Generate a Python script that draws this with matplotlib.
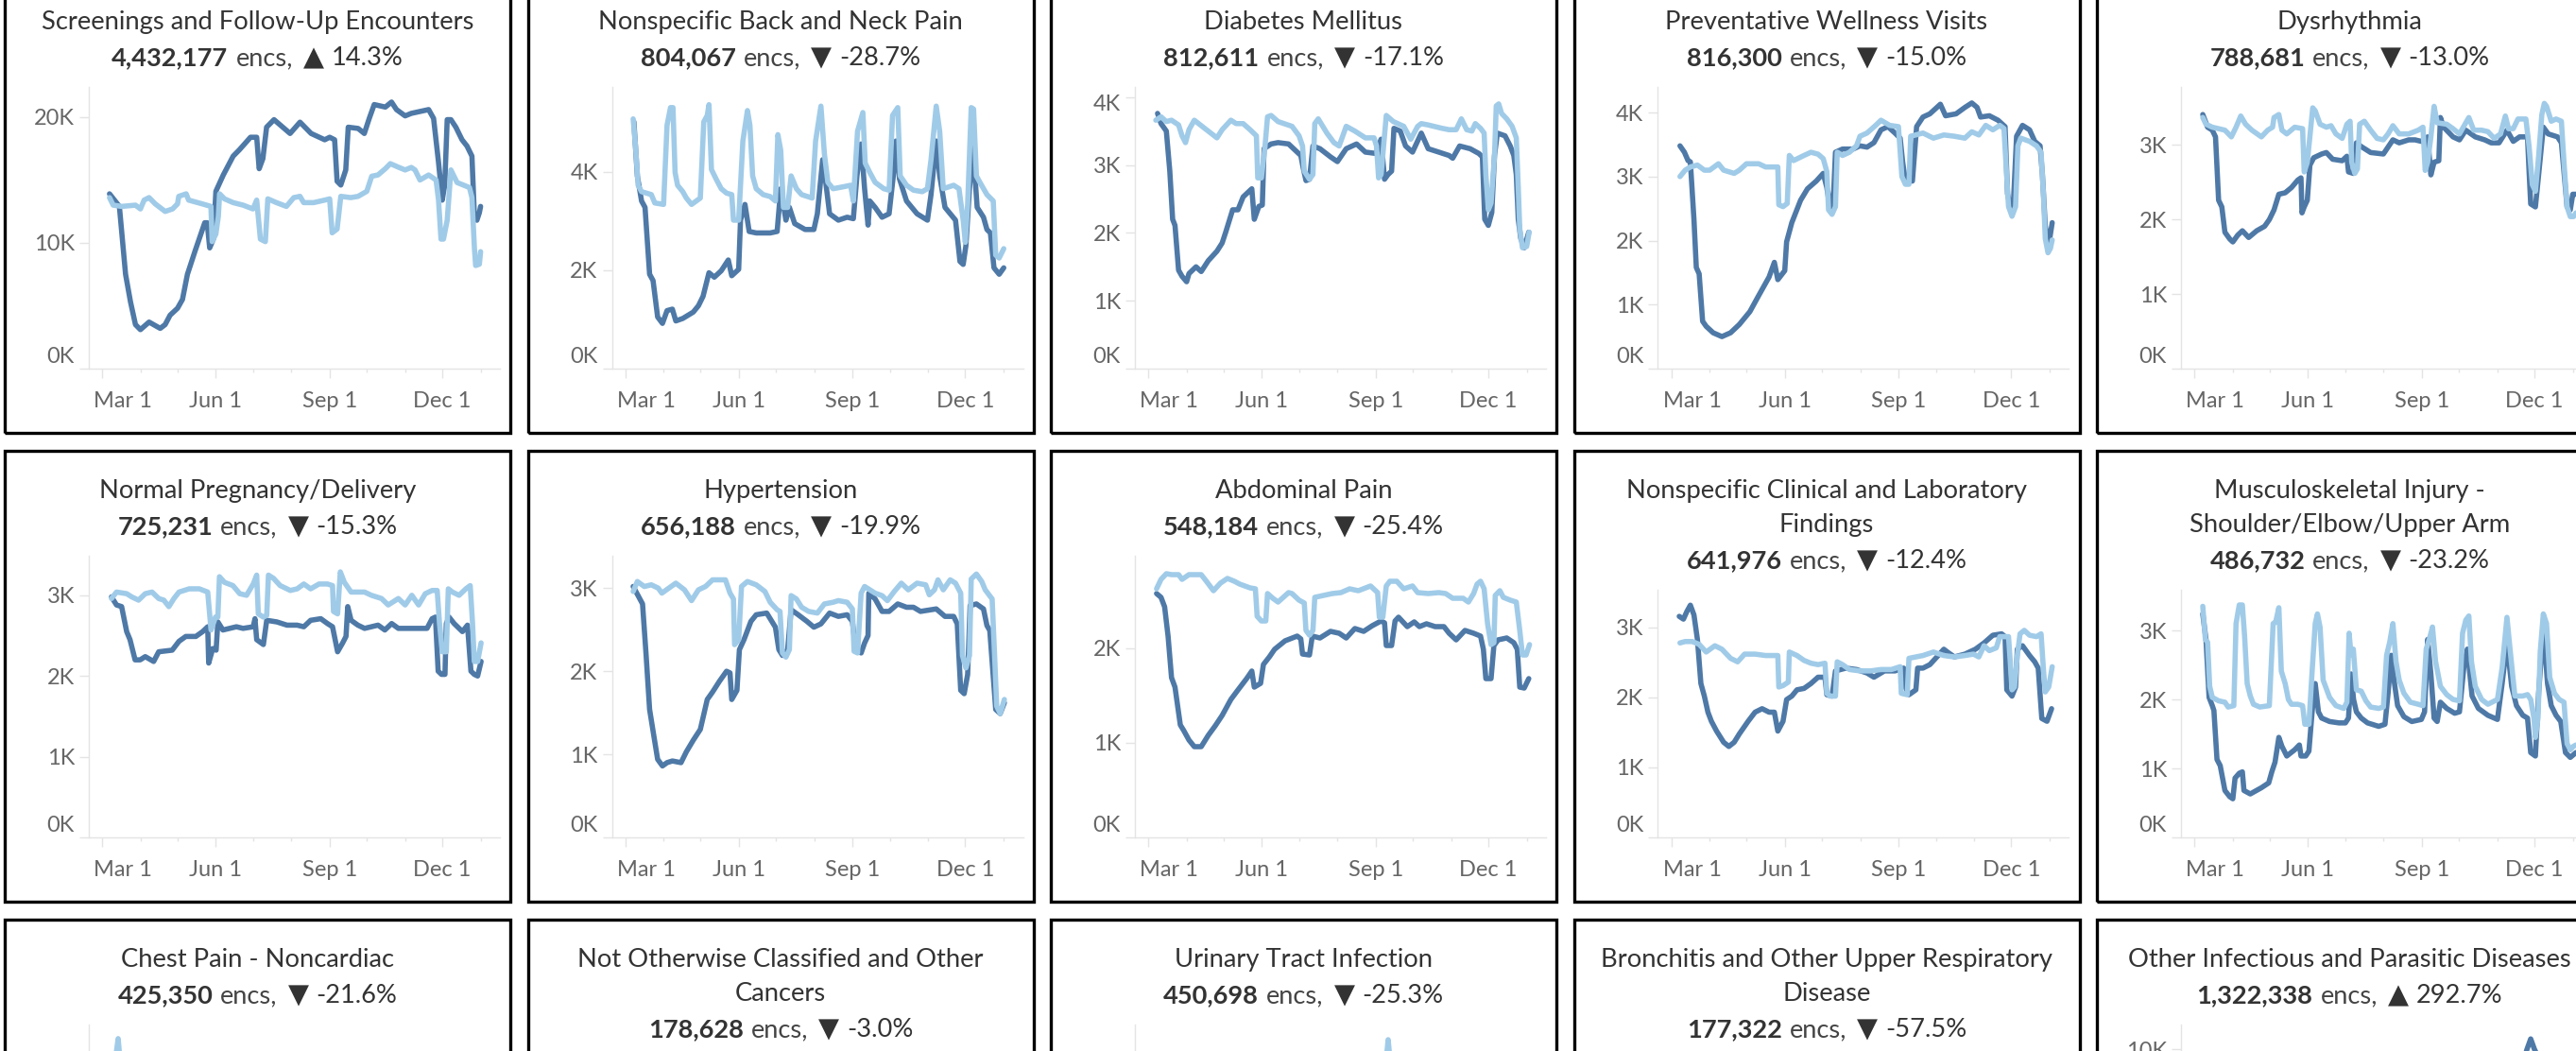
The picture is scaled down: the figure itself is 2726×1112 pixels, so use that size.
import matplotlib
matplotlib.use("Agg")
import matplotlib.pyplot as plt
import matplotlib.transforms as mtransforms
from matplotlib.patches import Rectangle
from matplotlib.offsetbox import TextArea, HPacker, DrawingArea, AnchoredOffsetbox

plt.rcParams['font.family'] = ['Lato', 'DejaVu Sans']

W, H, DPI = 2726, 1112, 100
DARK = '#4e79a7'   # 2020
LIGHT = '#a0cbe8'  # 2019

# ---------------- x axis (day of year) ----------------
MONTH_DAYS = [59, 90, 120, 151, 181, 212, 243, 273, 304, 334, 365]
LABEL_DAYS = [59, 151, 243, 334]
LABEL_TEXT = ['Mar 1', 'Jun 1', 'Sep 1', 'Dec 1']

# ---------------- series (day of year, thousands of encounters) ----------------
SCREEN_2020 = [(65,13.9),(73,12.9),(78,7.5),(82,5.3),(86,3.5),(90,3.1),(97,3.7),(106,3.2),(110,3.5),(114,4.25),(120,4.8),(124,5.5),(128,7.5),(134,9.3),(142,11.6),(144,11.6),(146,9.6),(149,10.3),(151,14.1),(157,15.4),(165,16.9),(170,17.4),(179,18.4),(184,18.4),(186,15.9),(189,16.7),(192,19.2),(198,19.8),(211,18.7),(219,19.6),(228,18.7),(239,18.2),(243,18.4),(247,18.2),(249,14.9),(252,14.6),(256,15.8),(258,19.2),(266,19.1),(271,18.7),(275,19.9),(279,21.0),(288,20.8),(293,21.2),(297,20.6),(304,20.1),(309,20.3),(323,20.6),(327,19.9),(331,16.4),(334,13.4),(336,14.6),(338,19.8),(341,19.8),(345,19.2),(350,18.2),(354,17.7),(358,16.9),(360,12.1),(362,11.8),(364,12.4),(365,12.9)]
SCREEN_2019 = [(65,13.6),(68,13.0),(75,12.9),(86,13.0),(90,12.7),(93,13.4),(97,13.6),(102,13.1),(110,12.5),(116,12.7),(120,13.1),(121,13.7),(127,13.9),(129,13.4),(140,13.1),(147,12.9),(148,10.1),(151,10.7),(153,12.1),(154,13.9),(158,13.5),(165,13.2),(173,13.0),(181,12.7),(184,13.4),(187,10.3),(191,10.1),(193,13.5),(200,13.2),(208,12.9),(214,13.6),(219,13.7),(222,13.2),(230,13.2),(239,13.4),(243,13.5),(245,10.8),(249,11.1),(252,13.7),(260,13.6),(266,13.7),(273,14.1),(277,15.3),(282,15.4),(288,15.9),(292,16.3),(299,16.0),(304,15.8),(309,16.0),(312,15.8),(316,15.0),(323,15.4),(329,15.0),(331,13.4),(333,10.3),(335,10.3),(338,11.8),(341,15.8),(346,14.8),(356,14.4),(358,13.6),(360,9.6),(361,8.2),(364,8.3),(365,9.3)]

BACK_2020 = [(66.1,5.02),(68.9,3.92),(72.3,3.41),(75.1,3.28),(78.8,1.92),(81.6,1.79),(85.3,1.05),(89.2,0.92),(92.9,1.18),(97.2,1.21),(100,0.97),(105.6,1.02),(114.1,1.15),(118.3,1.28),(122,1.47),(126.8,1.95),(131.1,1.86),(136.7,1.99),(142.4,2.21),(145.2,1.89),(150.8,2.02),(152.3,3.02),(155.9,3.34),(159.3,2.79),(165,2.76),(176.3,2.76),(181.9,2.79),(184.8,3.66),(189,3.02),(191.8,3.28),(196.1,2.95),(204.5,2.83),(211.6,2.83),(214.4,3.15),(218.7,4.25),(221.5,3.73),(224.3,3.15),(231.4,3.02),(238.5,3.08),(243.5,3.05),(246.4,3.92),(249.8,4.57),(252.6,3.66),(255.4,2.92),(256.8,3.41),(261.1,3.28),(266.7,3.08),(272.4,3.15),(275.8,3.92),(278,4.63),(280.8,3.86),(286.5,3.41),(295,3.15),(303.4,3.02),(306.3,3.54),(310.5,4.63),(313.3,3.92),(317.6,3.28),(326.1,3.02),(329.7,2.18),(332.3,2.12),(334.5,2.5),(337.4,3.66),(340.2,4.5),(343.6,3.28),(348.7,3.08),(351.5,2.83),(354.3,2.76),(357.2,2.05),(361.4,1.92),(365.1,2.05)]
BACK_2019 = [(65.5,5.08),(67.5,4.5),(69.5,3.73),(72.3,3.6),(80.2,3.54),(83,3.37),(90.1,3.34),(92.9,4.95),(95.7,5.31),(97.7,5.31),(99.4,3.99),(101.4,3.73),(105.6,3.6),(108.5,3.47),(112.7,3.34),(119.8,3.47),(122.6,5.02),(125.4,5.15),(126.8,5.37),(128.8,4.05),(132.5,3.86),(136.7,3.66),(141,3.57),(145.2,3.54),(146.6,3.02),(150.8,3.02),(154.2,4.63),(157.9,5.25),(159.9,4.95),(162.1,3.92),(165,3.66),(170.6,3.54),(176.3,3.5),(180.5,3.41),(182.5,4.76),(184.8,4.44),(187,3.28),(190.4,3.28),(193.2,3.92),(197.5,3.66),(201.7,3.54),(210.2,3.47),(213,4.63),(217.3,5.34),(220.1,4.37),(222.9,3.79),(227.1,3.66),(235.6,3.7),(241.3,3.73),(243.5,3.41),(246.9,4.83),(251.2,5.21),(253.1,4.18),(256.8,3.99),(261.1,3.79),(268.1,3.66),(272.4,3.63),(275.2,5.15),(279.4,5.31),(281.4,3.92),(286.5,3.73),(292.1,3.63),(299.2,3.6),(303.4,3.66),(306.3,4.25),(310.5,5.34),(313.3,4.83),(316.2,3.66),(324.6,3.73),(328.9,3.66),(332.3,3.02),(334,2.57),(335.9,3.34),(338.8,5.31),(340.7,5.28),(343,3.92),(345.8,3.79),(351.5,3.54),(356.6,3.41),(358.6,2.31),(361.4,2.25),(365.1,2.44)]

DIAB_2020 = [(66.6,3.76),(69.4,3.61),(73.7,3.5),(76.5,2.91),(78.8,2.2),(80.7,2.11),(83.6,1.45),(86.4,1.36),(90.1,1.28),(92,1.4),(97.7,1.5),(101.9,1.43),(107.6,1.59),(114.6,1.73),(118.8,1.85),(121.7,2.01),(127.3,2.34),(131.6,2.34),(135.8,2.53),(142.8,2.65),(144.8,2.2),(148.5,2.39),(151.3,2.41),(152.7,3.24),(158.4,3.31),(164,3.33),(172.5,3.31),(179.5,3.19),(182.4,3.14),(184.3,2.96),(186.6,2.77),(189.4,2.79),(192.2,3.28),(197.9,3.24),(206.4,3.12),(212,3.05),(219.1,3.24),(227.5,3.31),(234.6,3.19),(243.1,3.17),(247.3,3.38),(250.1,2.79),(252.9,2.86),(255.8,2.91),(257.7,3.54),(262.8,3.5),(267.1,3.28),(272.7,3.19),(279.8,3.47),(285.4,3.24),(293.9,3.19),(302.3,3.14),(305.2,3.1),(310.8,3.28),(319.3,3.24),(326.3,3.17),(329.2,3.12),(331.1,2.2),(334,2.11),(336.8,2.3),(339,3.14),(341.3,3.47),(347.5,3.43),(351.7,3.28),(354.6,3.14),(356.6,2.86),(358.2,2.2),(360.2,1.92),(363,1.78),(366.7,2.01)]
DIAB_2019 = [(65.2,3.66),(69.4,3.71),(73.7,3.64),(77.9,3.66),(83.6,3.59),(86.4,3.43),(89.2,3.33),(92,3.52),(96.3,3.66),(104.7,3.54),(114.6,3.4),(118.8,3.52),(125.9,3.66),(130.1,3.61),(135.8,3.61),(141.4,3.52),(146.5,3.43),(147.6,2.81),(150.5,2.81),(153.3,3.24),(155.5,3.71),(158.4,3.73),(164,3.64),(175.3,3.57),(181,3.43),(183.8,3.28),(185.2,2.91),(189.4,2.79),(192.2,2.86),(193.7,3.61),(196.5,3.68),(203.5,3.47),(209.2,3.33),(213.4,3.28),(219.1,3.57),(226.1,3.5),(234.6,3.4),(241.6,3.4),(243.6,3.28),(245.3,2.81),(247.3,2.86),(251.5,3.73),(257.2,3.64),(265.6,3.57),(271.3,3.38),(276.9,3.57),(279.8,3.61),(285.4,3.59),(296.7,3.54),(302.3,3.52),(308,3.52),(312.2,3.68),(316.5,3.52),(320.7,3.5),(323.5,3.61),(327.7,3.54),(330.6,3.47),(332,2.86),(334,2.34),(336.2,2.44),(339,3.14),(340.4,3.87),(342.4,3.9),(344.7,3.76),(348.9,3.68),(353.2,3.57),(356.6,3.4),(358.2,2.67),(359.4,2.06),(361.6,1.78),(365,1.8),(367,2.01)]

PREV_2020 = [(66.1,3.48),(69.7,3.38),(72.6,3.25),(74.5,3.23),(77.4,2.33),(79.3,1.58),(81.6,1.48),(84.4,0.74),(87.3,0.66),(92.9,0.56),(100,0.5),(107,0.56),(114.1,0.69),(122.6,0.89),(129.7,1.14),(138.1,1.43),(142.4,1.66),(145.2,1.39),(150.8,1.53),(152.3,1.98),(156.5,2.28),(163.6,2.63),(169.2,2.81),(176.3,2.93),(181.9,3.05),(184.8,2.83),(187.6,2.48),(190.4,2.78),(191.8,3.38),(197.5,3.43),(206,3.43),(211.6,3.48),(217.3,3.46),(222.9,3.53),(228.6,3.73),(234.2,3.78),(239.9,3.68),(244.1,3.6),(246.1,3.23),(248.3,2.93),(254,2.93),(257.4,3.78),(262.5,3.93),(268.1,3.98),(276.6,4.13),(280.8,3.95),(289.3,3.98),(296.4,4.08),(302,4.15),(306.3,4.08),(309.1,3.93),(316.2,3.95),(323.2,3.88),(328.9,3.78),(330.9,2.73),(333.1,2.53),(335.4,2.48),(338.2,3.63),(343,3.8),(348.7,3.73),(352.9,3.55),(357.2,3.48),(359.1,3.03),(361.4,2.23),(364.2,1.93),(367,2.28)]
PREV_2019 = [(66.1,3.0),(70.3,3.1),(74.5,3.15),(80.2,3.18),(85.8,3.1),(90.1,3.1),(97.2,3.2),(101.4,3.1),(109.9,3.05),(114.1,3.1),(119.8,3.2),(129.7,3.2),(135.3,3.15),(145.2,3.15),(146,2.56),(149.4,2.53),(152.8,2.58),(154.5,3.33),(157.9,3.25),(166.4,3.33),(172,3.38),(177.7,3.35),(181.9,3.28),(184.8,3.08),(186.2,2.48),(189,2.41),(191.8,2.53),(193.2,3.38),(197.5,3.33),(203.1,3.38),(208.8,3.48),(211.6,3.63),(217.3,3.68),(224.3,3.8),(228.6,3.88),(235.6,3.8),(242.7,3.78),(245.5,3.0),(248.3,2.88),(251.2,2.88),(252.6,3.63),(262.5,3.68),(271,3.6),(279.4,3.65),(287.9,3.63),(296.4,3.6),(302,3.7),(307.7,3.65),(313.3,3.8),(319,3.73),(324.6,3.8),(328,3.75),(329.7,3.18),(331.7,2.53),(334.5,2.38),(337.4,2.53),(339.3,3.48),(341.6,3.6),(348.7,3.55),(354.3,3.48),(358,3.38),(359.9,2.73),(361.4,2.03),(363.6,1.81),(365.6,1.88),(367,2.01)]

DYSR_2020 = [(65.9,3.41),(69.8,3.24),(73.6,3.2),(76.2,3.11),(78.7,2.26),(81.3,2.17),(83.8,1.83),(87.7,1.74),(90.2,1.7),(94.1,1.79),(97.9,1.85),(103,1.76),(109.5,1.85),(115.9,1.91),(119.7,2.0),(123.5,2.13),(127.4,2.34),(132.5,2.36),(137.6,2.43),(142.7,2.53),(145.3,2.56),(146.1,2.09),(147.9,2.17),(150.4,2.26),(152.5,2.73),(155.6,2.83),(162,2.88),(165.8,2.9),(170.9,2.81),(178.6,2.79),(182.4,2.85),(183.7,2.64),(187.6,2.62),(190.1,3.03),(194,2.98),(201.6,2.9),(211.9,2.88),(219.6,3.07),(224.7,3.03),(232.4,3.07),(237.5,3.07),(242.6,3.05),(247.7,3.11),(250.3,2.6),(252.9,2.77),(256.7,2.79),(258,3.37),(260.6,3.24),(268.2,3.11),(273.4,3.07),(278.5,3.2),(286.2,3.11),(293.8,3.07),(299,3.03),(305.4,3.03),(311.8,3.2),(316.9,3.05),(322,3.11),(328.4,3.11),(329.7,2.64),(331,2.21),(334.8,2.17),(337.4,2.6),(341.2,3.24),(345.1,3.15),(352.7,3.11),(355.8,3.03),(357.9,2.64),(360.4,2.17),(363,2.13),(365,2.34),(367.6,2.34)]
DYSR_2019 = [(65.9,3.37),(68.5,3.28),(73.6,3.24),(78.7,3.22),(83.8,3.2),(89,3.11),(92.8,3.24),(96.6,3.39),(100.5,3.28),(105.6,3.2),(113.3,3.11),(118.4,3.2),(122.3,3.24),(123.5,3.37),(127.4,3.41),(129.9,3.2),(133.8,3.15),(140.2,3.24),(146.6,3.22),(147.9,2.64),(150.4,2.77),(153,3.2),(154.8,3.5),(156.8,3.46),(160.7,3.28),(165.8,3.24),(169.6,3.26),(173.5,3.15),(178.6,3.09),(182.4,3.28),(185,3.32),(186.3,2.77),(188.8,2.62),(190.9,2.68),(192.7,3.28),(196.5,3.32),(201.6,3.2),(206.8,3.09),(211.9,3.07),(215.7,3.15),(219.6,3.26),(224.7,3.15),(232.4,3.15),(240.1,3.2),(243.9,3.24),(245.7,2.66),(247.7,2.77),(250.3,3.11),(252.9,3.52),(255.4,3.3),(263.1,3.28),(268.2,3.22),(273.4,3.15),(277.2,3.26),(281,3.37),(284.9,3.2),(291.3,3.2),(296.4,3.18),(301.5,3.09),(306.6,3.15),(310.5,3.39),(313.1,3.22),(316.9,3.22),(320.7,3.35),(327.1,3.35),(329.7,2.98),(332.3,2.47),(334.8,2.38),(337.4,2.85),(340,3.41),(342,3.56),(343.8,3.52),(347.6,3.32),(351.5,3.35),(355.8,3.32),(357.9,2.77),(360.4,2.17),(363,2.04),(365.6,2.04),(367.6,2.09)]

PREG_2020 = [(66.6,2.98),(70.7,2.88),(74.8,2.86),(78.9,2.55),(81.6,2.45),(85.7,2.2),(89.8,2.2),(93.9,2.24),(100.7,2.18),(104.8,2.3),(115.7,2.32),(121.2,2.43),(126.7,2.49),(134.8,2.49),(140.3,2.55),(144.4,2.61),(145.2,2.16),(148.5,2.34),(151.2,2.32),(152.6,2.67),(156.7,2.57),(167.6,2.61),(173,2.59),(181.2,2.61),(182.6,2.71),(184,2.45),(189.4,2.39),(192.1,2.69),(200.3,2.67),(208.5,2.63),(216.7,2.63),(222.1,2.61),(227.6,2.69),(235.8,2.71),(241.2,2.65),(245.3,2.61),(249.4,2.3),(253.5,2.41),(256.2,2.49),(257.6,2.86),(260.3,2.69),(265.8,2.63),(271.2,2.59),(282.1,2.63),(287.6,2.57),(293.1,2.65),(298.5,2.59),(309.4,2.59),(321.7,2.59),(325.8,2.71),(328.5,2.73),(330.7,2.06),(333.4,2.02),(336.2,2.02),(337.3,2.65),(339.5,2.73),(343.6,2.65),(350.3,2.55),(354.4,2.63),(357.2,2.06),(359.9,2.02),(362.6,2.0),(365.4,2.18)]
PREG_2019 = [(66.6,2.96),(70.7,3.04),(78.9,3.02),(83,2.98),(88.5,2.94),(93.9,3.02),(99.4,3.04),(104.8,2.96),(108.9,2.94),(113,2.86),(117.1,2.96),(121.2,3.04),(129.4,3.08),(137.6,3.08),(144.4,3.04),(147.1,2.57),(150.7,2.73),(152.6,2.73),(153.9,3.23),(158,3.16),(164.8,3.12),(170.3,3.02),(175.8,3.0),(181.2,3.14),(184,3.25),(185.3,2.77),(189.4,2.73),(192.1,2.75),(193.5,3.25),(197.6,3.21),(203,3.12),(211.2,3.06),(216.7,3.08),(222.1,3.14),(227.6,3.08),(234.4,3.14),(241.2,3.14),(245.3,3.12),(246.1,2.8),(249.4,2.77),(251.6,3.29),(254.9,3.16),(260.3,3.04),(271.2,3.04),(276.7,3.0),(284.9,2.96),(290.3,2.88),(298.5,2.96),(304,2.88),(309.4,3.0),(314.9,2.88),(320.3,3.02),(325.8,3.06),(329.9,3.06),(331.8,2.65),(334,2.3),(337.3,2.3),(338.9,3.08),(342.2,3.04),(347.6,3.0),(353.1,3.08),(356.6,3.12),(358.5,2.65),(359.9,2.18),(362.6,2.18),(365.4,2.41)]

HTN_2020 = [(65.5,3.02),(69.5,2.91),(73.1,2.81),(76,2.19),(78.8,1.54),(81.6,1.28),(85.3,0.94),(89.2,0.86),(92.9,0.9),(97.2,0.92),(104.2,0.9),(108.5,1.03),(114.1,1.17),(119.8,1.3),(125.4,1.66),(129.7,1.75),(135.3,1.88),(141,2.0),(143.8,1.98),(145.2,1.66),(149.4,1.77),(151.4,2.26),(155.1,2.38),(160.7,2.6),(165,2.68),(173.5,2.7),(180.5,2.53),(183.3,2.26),(186.2,2.19),(190.4,2.26),(193.2,2.74),(198.9,2.68),(206,2.6),(211.6,2.53),(217.3,2.57),(224.3,2.7),(231.4,2.66),(238.5,2.68),(242.7,2.6),(245.5,2.26),(249.8,2.22),(252.6,2.34),(255.4,2.43),(256,2.94),(261.1,2.87),(266.7,2.72),(272.4,2.72),(279.4,2.81),(286.5,2.77),(292.1,2.77),(297.8,2.72),(310.5,2.75),(317.6,2.66),(324.6,2.66),(327.5,2.57),(330.3,1.77),(333.1,1.73),(335.9,1.96),(337.9,2.79),(343,2.81),(348.7,2.75),(351.5,2.55),(353.8,2.49),(358.6,1.54),(362.2,1.49),(365.6,1.62)]
HTN_2019 = [(65.5,2.96),(68.9,3.08),(74.5,3.02),(80.2,3.04),(85.8,3.0),(88.7,2.94),(94.3,3.0),(100,3.06),(107,2.98),(112.7,2.85),(118.3,2.98),(124,3.02),(129.7,3.1),(140.1,3.1),(143.8,2.94),(146.6,2.87),(147.5,2.32),(150.8,2.38),(153.1,3.02),(157.9,3.08),(165,3.04),(172,2.96),(176.3,2.83),(181.9,2.74),(184.2,2.72),(186.2,2.22),(189,2.17),(191.8,2.26),(193.2,2.91),(197.5,2.87),(201.7,2.77),(207.4,2.72),(214.4,2.7),(220.1,2.81),(227.1,2.83),(231.4,2.85),(238.5,2.83),(242.7,2.75),(244.1,2.24),(246.9,2.22),(249.8,2.94),(252.6,3.02),(261.1,2.94),(266.7,2.91),(271,2.85),(276.6,2.96),(282.3,3.06),(287.9,2.98),(295,3.06),(302,3.04),(304.9,2.92),(309.1,2.98),(311.9,3.1),(316.2,2.98),(321.8,3.1),(326.1,3.06),(330.3,2.94),(331.7,2.19),(334.5,2.04),(337.4,2.19),(338.8,3.11),(343,3.17),(347.3,3.08),(350.1,2.98),(355.7,2.87),(357.7,2.19),(359.4,1.58),(362.2,1.49),(365.6,1.66)]

ABD_2020 = [(65.8,2.58),(69.4,2.54),(72.3,2.44),(75.1,2.13),(77.9,1.69),(80.7,1.59),(85,1.19),(87.8,1.13),(92,1.03),(96.3,0.96),(101.9,0.96),(107.6,1.08),(113.2,1.18),(118.8,1.29),(125.9,1.46),(131.6,1.56),(138.6,1.68),(142.8,1.76),(144.8,1.59),(149.9,1.63),(152.2,1.83),(157,1.91),(161.2,1.99),(169.7,2.08),(179.5,2.13),(182.4,2.1),(183.8,1.94),(189.4,1.93),(191.7,2.13),(197.9,2.11),(206.4,2.18),(213.4,2.16),(219.1,2.11),(226.1,2.21),(233.2,2.18),(240.2,2.24),(247.3,2.29),(250.1,2.27),(251.5,2.03),(255.8,2.03),(258.6,2.29),(261.4,2.33),(268.5,2.23),(274.1,2.28),(278.3,2.23),(284,2.26),(291,2.23),(298.1,2.23),(302.3,2.16),(308,2.09),(315.1,2.19),(322.1,2.16),(327.7,2.13),(330,1.99),(332,1.68),(336.2,1.68),(338.5,2.03),(341.9,2.09),(348.9,2.11),(354.6,2.06),(357.4,1.99),(359.4,1.59),(363,1.58),(366.7,1.68)]
ABD_2019 = [(65.8,2.63),(69.4,2.73),(73.7,2.79),(77.9,2.78),(83.6,2.78),(86.4,2.73),(92,2.78),(101.9,2.78),(106.1,2.71),(111.8,2.61),(117.4,2.69),(123.1,2.74),(128.7,2.71),(133,2.68),(141.4,2.64),(145.7,2.63),(147.1,2.34),(150.5,2.29),(154.1,2.29),(155.5,2.58),(159.8,2.53),(164,2.49),(172.5,2.59),(175.3,2.58),(181,2.51),(185.2,2.48),(186.6,2.19),(189.4,2.14),(192.2,2.19),(193.7,2.54),(200.7,2.56),(207.8,2.58),(214.8,2.59),(221.9,2.63),(228.9,2.61),(238.8,2.66),(244.5,2.59),(245.9,2.33),(248.7,2.33),(251.5,2.66),(254.4,2.71),(260,2.71),(265.6,2.63),(272.7,2.66),(276.9,2.59),(285.4,2.58),(293.9,2.59),(299.5,2.58),(305.2,2.53),(313.6,2.53),(317.9,2.49),(322.1,2.58),(324.9,2.68),(327.7,2.71),(330.6,2.63),(333.4,2.26),(336.2,2.04),(338.5,2.06),(339.6,2.56),(343.3,2.61),(346.1,2.54),(351.8,2.51),(356.6,2.49),(359.4,2.19),(361.6,1.93),(364.5,1.93),(367.3,2.04)]

NONSPEC_2020 = [(65.5,3.16),(68.9,3.12),(71.7,3.23),(74.5,3.32),(77.4,3.18),(80.2,2.83),(83,2.2),(85.8,2.02),(88.7,1.79),(91.5,1.66),(95.7,1.52),(101.4,1.36),(105.6,1.3),(109.9,1.36),(114.1,1.48),(121.2,1.66),(126.8,1.79),(132.5,1.84),(138.1,1.79),(142.4,1.79),(145.2,1.52),(149.4,1.66),(152.3,1.97),(156.5,2.02),(160.7,2.11),(166.4,2.13),(172,2.2),(177.7,2.29),(183.3,2.29),(184.8,2.04),(189,2.02),(191.8,2.38),(200.3,2.42),(208.8,2.4),(217.3,2.35),(222.9,2.29),(231.4,2.38),(239.9,2.38),(246.9,2.42),(248.3,2.15),(251.2,2.04),(256.8,2.11),(258.2,2.42),(262.5,2.42),(268.1,2.47),(273.8,2.58),(279.4,2.69),(282.3,2.65),(287.9,2.58),(296.4,2.62),(304.9,2.69),(311.9,2.78),(319,2.89),(326.1,2.91),(328.9,2.87),(330.3,2.11),(334.5,2.02),(337.4,2.15),(338.8,2.69),(343,2.74),(348.7,2.6),(352.9,2.51),(355.7,2.42),(358.6,1.7),(362.8,1.66),(366.5,1.84)]
NONSPEC_2019 = [(66.1,2.78),(70.3,2.8),(76,2.8),(81.6,2.76),(87.3,2.65),(94.3,2.74),(100,2.69),(107,2.56),(112.7,2.51),(118.3,2.62),(126.8,2.62),(135.3,2.6),(145.2,2.6),(146,2.15),(149.4,2.17),(153.7,2.22),(154.5,2.65),(160.7,2.6),(166.4,2.53),(172,2.49),(177.7,2.47),(183.3,2.49),(184.8,2.06),(187.6,2.02),(191.8,2.02),(193.2,2.51),(197.5,2.47),(203.1,2.4),(211.6,2.38),(220.1,2.38),(228.6,2.4),(237,2.4),(244.1,2.44),(245,2.06),(249.8,2.04),(251.2,2.56),(256.8,2.58),(262.5,2.6),(271,2.65),(279.4,2.6),(287.9,2.58),(296.4,2.6),(303.4,2.62),(307.7,2.58),(311.9,2.74),(316.2,2.67),(321.8,2.71),(324.6,2.87),(331.7,2.87),(333.1,2.51),(334.5,2.11),(336.5,2.15),(338.8,2.6),(341,2.91),(344.4,2.96),(348.7,2.89),(354.3,2.87),(358,2.91),(360,2.38),(361.4,2.08),(364.2,2.15),(367,2.44)]

MSK_2020 = [(65.9,3.24),(68.5,2.87),(71,2.03),(73.6,1.91),(74.9,1.84),(77.4,1.13),(80,1.04),(83.8,0.68),(87.7,0.59),(90.2,0.56),(92,0.86),(95.4,0.93),(97.9,0.95),(99.2,0.68),(104.3,0.63),(113.3,0.72),(119.2,0.79),(121.7,0.95),(124.3,1.09),(127.4,1.45),(129.9,1.32),(133.8,1.18),(140.2,1.27),(144,1.34),(145.3,1.18),(149.1,1.18),(151.7,1.25),(154.3,1.82),(156.8,2.23),(159.4,1.82),(162,1.73),(168.4,1.68),(176,1.66),(181.2,1.66),(183.7,1.73),(185.8,2.37),(187.8,2.0),(190.1,1.82),(194,1.73),(199.1,1.66),(208.1,1.61),(213.2,1.64),(215.7,2.09),(218.3,2.64),(220.9,2.23),(223.4,1.91),(228.5,1.75),(234.9,1.68),(242.6,1.71),(245.2,1.82),(247.7,2.87),(250.3,2.37),(252.9,1.73),(255.4,1.68),(258,1.96),(263.1,1.87),(269.5,1.8),(273.4,1.82),(277.2,2.51),(279.8,2.73),(283.6,2.05),(288.7,1.87),(296.4,1.77),(304.1,1.71),(307.9,2.23),(311.8,2.83),(315.6,2.19),(319.5,1.91),(324.6,1.77),(328.4,1.73),(331,1.23),(334.8,1.18),(337.4,2.09),(341.2,3.05),(344.6,2.23),(347.6,1.91),(351.5,1.77),(355.3,1.68),(359.1,1.23),(363,1.16),(367.6,1.23)]
MSK_2019 = [(65.9,3.35),(68,2.87),(69.8,2.83),(71.5,2.19),(73.6,2.03),(78.7,1.98),(83.8,1.96),(86.4,1.89),(91,1.91),(92.8,3.1),(95.4,3.37),(97.9,3.37),(99.7,2.92),(101.8,2.23),(104.3,2.05),(106.9,1.93),(112,1.89),(119.7,1.91),(122.8,3.1),(124.8,3.12),(127.4,3.33),(129.4,2.41),(132.5,2.23),(135.1,2.0),(137.6,1.93),(142.7,1.93),(146.6,1.91),(148.4,1.64),(151.7,1.64),(154.3,2.41),(156.8,3.1),(158.6,3.24),(160.7,3.05),(163.2,2.28),(168.4,2.03),(173.5,1.91),(179.9,1.87),(182.4,1.96),(184.2,2.96),(185.8,2.64),(187.6,2.73),(190.1,2.14),(194,2.12),(197.8,1.98),(201.6,1.89),(208.1,1.87),(211.9,1.89),(214.5,2.64),(217,2.83),(219.6,3.1),(222.1,2.55),(224.7,2.28),(228.5,2.09),(233.7,1.96),(240.1,1.93),(243.9,1.91),(246.5,2.73),(249,2.87),(251.6,3.05),(254.1,2.55),(258,2.19),(263.1,2.07),(268.2,2.0),(273.4,1.98),(275.9,2.96),(278.5,3.15),(281,3.21),(283.1,2.55),(286.2,2.19),(291.3,2.0),(296.4,1.93),(304.1,2.0),(307.9,2.46),(311.8,3.19),(314.3,2.73),(318.2,2.05),(324.6,2.05),(328.4,2.07),(331,2.0),(333.6,1.73),(334.8,1.45),(336.9,1.73),(338.7,2.69),(341.2,3.24),(343.8,3.1),(346.4,2.32),(350.2,2.09),(354,2.0),(357.9,1.96),(360.4,1.36),(363,1.27),(365.5,1.32),(367.6,1.34)]

# third row: only the top sliver of these panes is visible in the picture
CHEST_2020 = [(65,2.2),(72,2.0),(80,1.4),(90,1.0),(110,1.1),(150,1.4),(200,1.6),(250,1.6),(300,1.6),(330,1.3),(340,1.6),(360,1.2),(366,1.3)]
CHEST_2019 = [(65,2.3),(69,2.55),(72,2.85),(75,2.4),(80,2.15),(100,2.1),(150,2.05),(200,2.0),(250,2.0),(300,2.0),(332,1.6),(340,2.0),(360,1.5),(366,1.6)]
UTI_2020 = [(65,1.9),(75,1.6),(90,1.1),(110,1.2),(150,1.4),(200,1.5),(250,1.5),(300,1.5),(332,1.2),(340,1.5),(360,1.1),(366,1.2)]
UTI_2019 = [(65,2.0),(100,2.0),(150,1.9),(200,1.9),(245,1.9),(250,2.1),(253,2.46),(256,2.1),(260,1.95),(300,1.9),(332,1.5),(340,1.9),(360,1.4),(366,1.5)]
INFECT_2020 = [(65,0.4),(80,1.5),(100,2.5),(150,2.0),(200,4.0),(250,3.0),(290,4.5),(310,7.0),(322,9.0),(328,10.0),(331,10.4),(334,10.0),(340,9.4),(355,8.5),(366,8.8)]
INFECT_2019 = [(65,0.4),(100,0.4),(150,0.4),(200,0.4),(250,0.4),(300,0.4),(366,0.4)]

# ---------------- panel descriptions ----------------
TITLES = [
    ["Screenings and Follow-Up Encounters"], ["Nonspecific Back and Neck Pain"], ["Diabetes Mellitus"],
    ["Preventative Wellness Visits"], ["Dysrhythmia"],
    ["Normal Pregnancy/Delivery"], ["Hypertension"], ["Abdominal Pain"],
    ["Nonspecific Clinical and Laboratory", "Findings"], ["Musculoskeletal Injury -", "Shoulder/Elbow/Upper Arm"],
    ["Chest Pain - Noncardiac"], ["Not Otherwise Classified and Other", "Cancers"], ["Urinary Tract Infection"],
    ["Bronchitis and Other Upper Respiratory", "Disease"], ["Other Infectious and Parasitic Diseases"],
]
TOTALS = ["4,432,177", "804,067", "812,611", "816,300", "788,681",
          "725,231", "656,188", "548,184", "641,976", "486,732",
          "425,350", "178,628", "450,698", "177,322", "1,322,338"]
CHANGES = [14.3, -28.7, -17.1, -15.0, -13.0,
           -15.3, -19.9, -25.4, -12.4, -23.2,
           -21.6, -3.0, -25.3, -57.5, 292.7]
YMAX = [22.4, 5.73, 4.15, 4.4, 3.78,
        3.49, 3.39, 2.98, 3.54, 3.59,
        3.0, 1.0, 2.6, 1.0, 10.96]
YTICKS = [[0, 10, 20], [0, 2, 4], [0, 1, 2, 3, 4], [0, 1, 2, 3, 4], [0, 1, 2, 3],
          [0, 1, 2, 3], [0, 1, 2, 3], [0, 1, 2], [0, 1, 2, 3], [0, 1, 2, 3],
          [0, 1, 2], [0, 0.5, 1], [0, 1, 2], [0, 0.5, 1], [0, 5, 10]]
SERIES = [(SCREEN_2020, SCREEN_2019), (BACK_2020, BACK_2019), (DIAB_2020, DIAB_2019),
          (PREV_2020, PREV_2019), (DYSR_2020, DYSR_2019),
          (PREG_2020, PREG_2019), (HTN_2020, HTN_2019), (ABD_2020, ABD_2019),
          (NONSPEC_2020, NONSPEC_2019), (MSK_2020, MSK_2019),
          (CHEST_2020, CHEST_2019), None, (UTI_2020, UTI_2019), None, (INFECT_2020, INFECT_2019)]

# ---------------- figure ----------------
fig = plt.figure(figsize=(W / DPI, H / DPI), dpi=DPI)
fig.patch.set_facecolor('white')
renderer = fig.canvas.get_renderer()


def measure(s, size, weight='normal'):
    t = fig.text(0, 0, s, fontsize=size, fontweight=weight)
    w = t.get_window_extent(renderer=renderer).width
    t.remove()
    return w


TITLE_FS = 17 * 459 / measure('Screenings and Follow-Up Encounters', 17)
NUM_FS = 17 * 123 / measure('4,432,177', 17, 'bold')
TICK_FS = 17 * 62 / measure('Mar 1', 17)

TXT = '#333333'
TICKTXT = '#666666'
AXC = '#e4e4e4'
LW = 4.0

PANEL_W, PANEL_H = 535, 477
COL_X0, COL_PITCH = 5, 553.5
ROW_Y0, ROW_PITCH = -19, 496


def fx(px):
    return px / W


def fy(py):
    return 1 - py / H


def px_shift(dx, dy):
    return mtransforms.ScaledTranslation(dx / DPI, dy / DPI, fig.dpi_scale_trans)


for i in range(len(TITLES)):
    r, c = divmod(i, 5)
    L = COL_X0 + c * COL_PITCH
    T = ROW_Y0 + r * ROW_PITCH
    cx = L + PANEL_W / 2

    fig.add_artist(Rectangle((fx(L), fy(T + PANEL_H)), PANEL_W / W, PANEL_H / H,
                             transform=fig.transFigure, fill=False, edgecolor='black',
                             linewidth=2.4, clip_on=False))

    nlines = len(TITLES[i])
    for k, line in enumerate(TITLES[i]):
        fig.text(fx(cx), fy(T + 50 + 36 * k), line, ha='center', va='baseline',
                 fontsize=TITLE_FS, color=TXT)

    ch = CHANGES[i]
    tri = '\u25B2' if ch > 0 else '\u25BC'
    kids = [
        TextArea(TOTALS[i], textprops=dict(fontsize=NUM_FS, fontweight='bold', color=TXT)),
        DrawingArea(8 * 72 / DPI, 1),
        TextArea('encs,', textprops=dict(fontsize=NUM_FS, color='#444444')),
        DrawingArea(11 * 72 / DPI, 1),
        TextArea(tri, textprops=dict(fontsize=NUM_FS * 1.05, color=TXT, family=['DejaVu Sans'])),
        DrawingArea(8 * 72 / DPI, 1),
        TextArea(f'{ch:.1f}%', textprops=dict(fontsize=NUM_FS, color=TXT)),
    ]
    box = HPacker(children=kids, align='baseline', pad=0, sep=0)
    stats_base = T + 50 + 36 * nlines
    anch = AnchoredOffsetbox(loc='center', child=box, pad=0, borderpad=0, frameon=False,
                             bbox_to_anchor=(fx(cx), fy(stats_base - 6)),
                             bbox_transform=fig.transFigure)
    fig.add_artist(anch)

    pane_top = T + (111 if nlines == 1 else 147)
    pane_bot = T + 409
    ax = fig.add_axes([fx(L + 89), fy(pane_bot), 435 / W, (pane_bot - pane_top) / H])
    ax.set_facecolor('none')

    if SERIES[i] is not None:
        s20, s19 = SERIES[i]
        ax.plot([p[0] for p in s20], [p[1] for p in s20], color=DARK, lw=LW,
                solid_joinstyle='round', solid_capstyle='round', zorder=2, clip_on=False)
        ax.plot([p[0] for p in s19], [p[1] for p in s19], color=LIGHT, lw=LW,
                solid_joinstyle='round', solid_capstyle='round', zorder=3, clip_on=False)

    ax.set_xlim(48.3, 380.6)
    ax.set_ylim(0, YMAX[i])
    for s in ['top', 'right']:
        ax.spines[s].set_visible(False)
    for s in ['left', 'bottom']:
        ax.spines[s].set_color(AXC)
        ax.spines[s].set_linewidth(1.0)

    ax.set_xticks(LABEL_DAYS, LABEL_TEXT)
    ax.set_xticks([d for d in MONTH_DAYS if d not in LABEL_DAYS], minor=True)
    yt = YTICKS[i]
    ax.set_yticks(yt, [f'{v:g}K' for v in yt])
    ax.tick_params(axis='x', which='major', length=7.2, width=1, color=AXC, pad=22.5,
                   labelsize=TICK_FS, labelcolor=TICKTXT)
    ax.tick_params(axis='x', which='minor', length=2.9, width=1, color=AXC)
    ax.tick_params(axis='y', which='major', length=7.2, width=1, color=AXC, pad=3.6,
                   labelsize=TICK_FS, labelcolor=TICKTXT)
    for lab in ax.get_xticklabels():
        lab.set_va('baseline')

    xl = ax.get_xticklabels()
    xl[0].set_transform(xl[0].get_transform() + px_shift(22, 0))
    yl = ax.get_yticklabels()
    yl[0].set_transform(yl[0].get_transform() + px_shift(0, 15))
    pane_h = pane_bot - pane_top
    top_gap = (YMAX[i] - yt[-1]) / YMAX[i] * pane_h
    if top_gap < 20:
        yl[-1].set_transform(yl[-1].get_transform() + px_shift(0, -5.5))

fig.savefig('out.png', dpi=DPI)
